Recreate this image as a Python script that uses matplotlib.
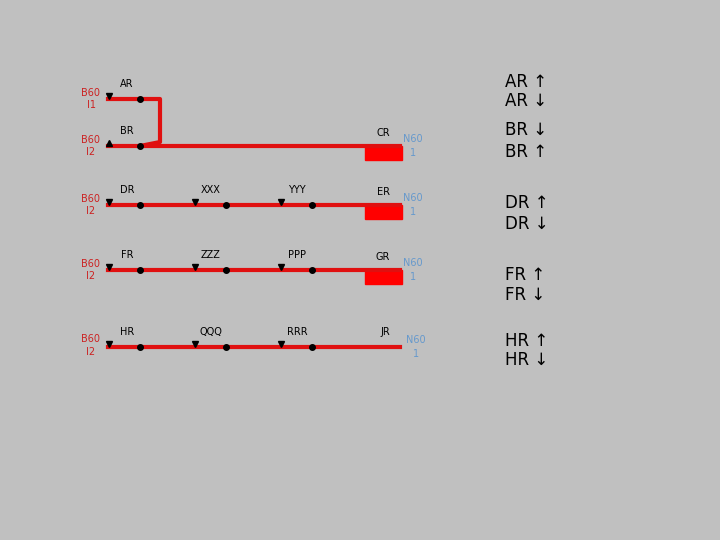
import matplotlib.pyplot as plt

# 图中文字
left_names = ["AR", "BR", "DR", "FR", "HR"]
mid1_names = ["", "", "XXX", "ZZZ", "QQQ"]
mid2_names = ["", "", "YYY", "PPP", "RRR"]
end_names = ["", "CR", "ER", "GR", "JR"]
side_top = ["AR ↑", "BR ↓", "DR ↑", "FR ↑", "HR ↑"]
side_bot = ["AR ↓", "BR ↑", "DR ↓", "FR ↓", "HR ↓"]
b_sub = ["I1", "I2", "I2", "I2", "I2"]
row_y = [99, 146, 205, 270, 347]

RED = "#e01010"
fig = plt.figure(figsize=(7.2, 5.4), dpi=100)
fig.patch.set_facecolor("#c0c0c0")
ax = fig.add_axes([0, 0, 1, 1])
ax.set_xlim(0, 720)
ax.set_ylim(540, 0)
ax.axis("off")

for i, y in enumerate(row_y):
    fs = 7
    # 左侧 B60 标记
    ax.text(91, y - 6 if i != 4 else y - 8, "B60", color="#cc2222", fontsize=fs, ha="center", va="center")
    ax.text(91, y + 6 if i != 4 else y + 5, b_sub[i], color="#cc2222", fontsize=fs, ha="center", va="center")
    ax.text(127, y - 15, left_names[i], fontsize=fs, ha="center", va="center")
    ax.plot(109, y - 3, marker="^" if i == 1 else "v", color="k", ms=5, zorder=5)
    ax.plot(140, y, "o", color="k", ms=4, zorder=5)
    if i == 0:
        ax.plot([108, 160, 160, 140], [y, y, row_y[1] - 4, row_y[1]], color=RED, lw=3)
        continue
    ax.plot([108, 400], [y, y], color=RED, lw=3)
    for x0, nm in ((195, mid1_names[i]), (281, mid2_names[i])):
        if nm:
            ax.plot(x0, y - 3, marker="v", color="k", ms=5, zorder=5)
            ax.plot(x0 + 31, y, "o", color="k", ms=4, zorder=5)
            ax.text(x0 + 16, y - 15, nm, fontsize=fs, ha="center", va="center")
    if i < 4:
        ax.add_patch(plt.Rectangle((365, y), 37, 14, color="#ff0000"))
        ax.text(383, y - 13, end_names[i], fontsize=fs, ha="center", va="center")
        ax.text(413, y - 7, "N60", color="#6699cc", fontsize=fs, ha="center", va="center")
        ax.text(413, y + 7, "1", color="#6699cc", fontsize=fs, ha="center", va="center")
    else:
        ax.text(385, y - 15, end_names[i], fontsize=fs, ha="center", va="center")
        ax.text(416, y - 7, "N60", color="#6699cc", fontsize=fs, ha="center", va="center")
        ax.text(416, y + 7, "1", color="#6699cc", fontsize=fs, ha="center", va="center")

side_y = [(82, 101), (130, 152), (203, 224), (275, 295), (341, 360)]
for t, b, (y1, y2) in zip(side_top, side_bot, side_y):
    ax.text(505, y1, t, fontsize=12, va="center")
    ax.text(505, y2, b, fontsize=12, va="center")

fig.savefig("out.png", dpi=100, facecolor=fig.get_facecolor())
